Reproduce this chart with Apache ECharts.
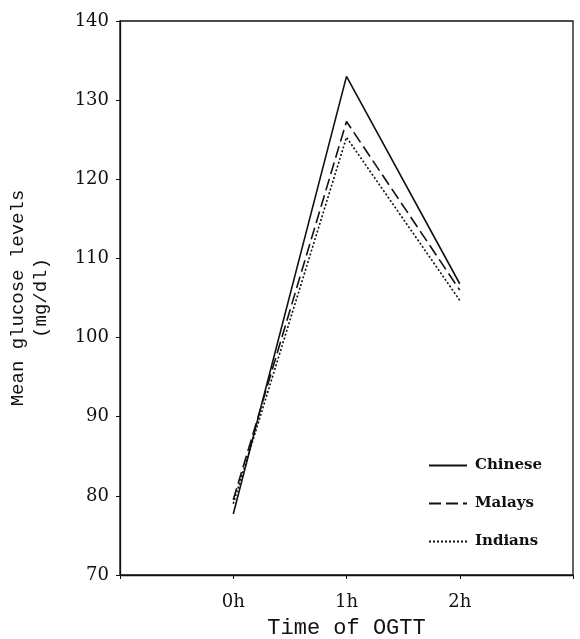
<!DOCTYPE html>
<html>
<head>
<meta charset="utf-8">
<script src="https://cdn.jsdelivr.net/npm/echarts@6/dist/echarts.min.js"></script>
<style>html,body{margin:0;padding:0;background:#fff;}#c{width:580px;height:639px;}</style>
</head>
<body>
<div id="c"></div>
<script>
var timePoints = [0, 1, 2];
var timeLabels = ['0h', '1h', '2h'];
var chinese = [77.7, 133, 106.8];
var malays = [79.5, 127.3, 106];
var indians = [79, 125.3, 104.7];
var yTicks = [70, 80, 90, 100, 110, 120, 130, 140];

function pts(arr){ return timePoints.map(function(t,i){ return [t, arr[i]]; }); }
var serif = 'DejaVu Serif';
var mono = 'Liberation Mono';
var chart = echarts.init(document.getElementById('c'));
chart.setOption({
  animation: false,
  backgroundColor: '#fff',
  grid: { left: 120, right: 7, top: 21, bottom: 64, show: true, borderColor: '#111', borderWidth: 1.3,
    outerBoundsMode: 'none', containLabel: false },
  legend: {
    orient: 'vertical', left: 423, top: 453, itemWidth: 38, itemHeight: 16, itemGap: 23,
    itemStyle: { opacity: 0 },
    textStyle: { fontFamily: serif, fontSize: 15, fontWeight: 'bold', color: '#111', padding: [0, 0, 0, 3] },
    data: ['Chinese', 'Malays', 'Indians']
  },
  xAxis: {
    type: 'value', min: -1, max: 3, interval: 1,
    name: 'Time of OGTT', nameLocation: 'middle', nameGap: 42,
    nameTextStyle: { fontFamily: mono, fontSize: 22, color: '#111' },
    axisLine: { onZero: false, lineStyle: { color: '#111', width: 1.3 } },
    axisTick: { length: 4, lineStyle: { color: '#111' } },
    splitLine: { show: false },
    axisLabel: { fontFamily: serif, fontSize: 18, color: '#111', margin: 18,
      formatter: function(v){ var i = timePoints.indexOf(v); return i >= 0 ? timeLabels[i] : ''; } }
  },
  yAxis: {
    type: 'value', min: yTicks[0], max: yTicks[yTicks.length-1], interval: 10,
    name: 'Mean glucose levels\n(mg/dl)', nameLocation: 'middle', nameGap: 68, nameRotate: 90,
    nameTextStyle: { fontFamily: mono, fontSize: 19, color: '#111', lineHeight: 23 },
    axisLine: { onZero: false, lineStyle: { color: '#111', width: 1.3 } },
    axisTick: { length: 4, lineStyle: { color: '#111' } },
    splitLine: { show: false },
    axisLabel: { fontFamily: serif, fontSize: 18, color: '#111', margin: 11 }
  },
  series: [
    { name: 'Chinese', type: 'line', data: pts(chinese), symbol: 'none',
      lineStyle: { color: '#111', width: 1.6, type: 'solid' }, itemStyle: { color: '#111' } },
    { name: 'Malays', type: 'line', data: pts(malays), symbol: 'none',
      lineStyle: { color: '#111', width: 1.6, type: [12, 5] }, itemStyle: { color: '#111' } },
    { name: 'Indians', type: 'line', data: pts(indians), symbol: 'none',
      lineStyle: { color: '#111', width: 1.6, type: [2, 2] }, itemStyle: { color: '#111' } }
  ]
});
</script>
</body>
</html>
